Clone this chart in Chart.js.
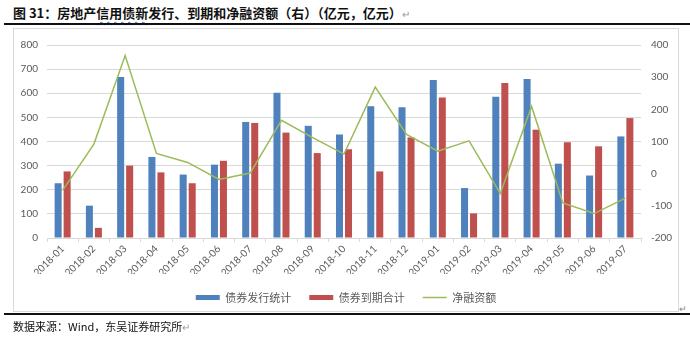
<!DOCTYPE html>
<html>
<head>
<meta charset="utf-8">
<script src="https://cdn.jsdelivr.net/npm/chart.js@4.4.1/dist/chart.umd.min.js"></script>
<style>
  body { margin: 0; background: #fff; width: 690px; height: 340px; position: relative; overflow: hidden;
         font-family: "Noto Sans CJK SC", sans-serif; }
  #title { position: absolute; left: 13px; top: 4px; font-size: 13px; font-weight: bold; line-height: 18px; white-space: nowrap; color: #111; }
  #title .wavy { text-decoration: underline wavy #4472c4; text-decoration-thickness: 1px; text-underline-offset: 3px; }
  .mark { color: #999; font-weight: normal; font-size: 10px; }
  .rule { position: absolute; left: 4px; right: 0; height: 2px; background: #111; }
  #frame { position: absolute; left: 13px; top: 28px; width: 666px; height: 284px; box-sizing: border-box; border: 1px solid #d9d9d9; }
  #box { position: absolute; left: 14px; top: 29px; width: 664px; height: 290px; }
  #source { position: absolute; left: 13px; top: 318px; font-size: 11px; line-height: 16px; white-space: nowrap; color: #111; }
  #corner { position: absolute; left: 679px; top: 302px; font-size: 9px; color: #888; }
</style>
</head>
<body>
<div id="title">图 31：房地产<span class="wavy">信用债新</span>发行、到期和净融资额（右）（亿元，亿元）<span class="mark">↵</span></div>
<div class="rule" style="top:23px"></div>
<div id="frame"></div>
<div id="box"><canvas id="chart"></canvas></div>
<span id="corner">↵</span>
<div class="rule" style="top:313px"></div>
<div id="source">数据来源：Wind，东吴证券研究所<span class="mark">↵</span></div>

<script>
// ---- DATA ----
const months = ['2018-01', '2018-02', '2018-03', '2018-04', '2018-05', '2018-06', '2018-07', '2018-08', '2018-09', '2018-10',
  '2018-11', '2018-12', '2019-01', '2019-02', '2019-03', '2019-04', '2019-05', '2019-06', '2019-07'];
const issuance = [227, 134, 667, 336, 263, 304, 481, 602, 465, 429, 546, 542, 655, 207, 586, 659, 308, 259, 421];
const maturity = [276, 42, 300, 272, 227, 320, 477, 437, 352, 368, 276, 417, 582, 102, 642, 449, 397, 380, 497];
const netFinancing = [-52, 92, 367, 63, 35, -18, 2, 166, 112, 61, 269, 122, 70, 102, -62, 209, -91, -124, -76];

const blue = '#4F81BD', red = '#C0504D', green = '#9BBB59';
const tickFont = { family: 'Lato', size: 10 };

new Chart(document.getElementById('chart'), {
  type: 'bar',
  data: {
    labels: months,
    datasets: [
      { label: '债券发行统计', data: issuance, backgroundColor: blue, yAxisID: 'y',
        categoryPercentage: 0.576, barPercentage: 0.78, order: 1 },
      { label: '债券到期合计', data: maturity, backgroundColor: red, yAxisID: 'y',
        categoryPercentage: 0.576, barPercentage: 0.78, order: 1 },
      { type: 'line', label: '净融资额', data: netFinancing, borderColor: green, backgroundColor: green,
        borderWidth: 1.5, pointRadius: 0, tension: 0, yAxisID: 'y1', order: 0 }
    ]
  },
  options: {
    responsive: true,
    maintainAspectRatio: false,
    animation: false,
    layout: { padding: { left: 0, right: 0, top: 11, bottom: 6 } },
    plugins: {
      tooltip: { enabled: false },
      legend: {
        position: 'bottom',
        labels: {
          usePointStyle: true,
          pointStyleWidth: 24,
          boxHeight: 5,
          padding: 18,
          color: '#595959',
          font: { family: 'Noto Sans CJK SC', size: 11 },
          generateLabels(chart) {
            const items = Chart.defaults.plugins.legend.labels.generateLabels(chart);
            items.forEach(it => {
              if (it.datasetIndex === 2) { it.pointStyle = 'line'; it.lineWidth = 1.5; it.strokeStyle = green; }
              else { it.pointStyle = 'rect'; it.lineWidth = 0; }
            });
            return items.sort((a, b) => a.datasetIndex - b.datasetIndex);
          }
        }
      }
    },
    scales: {
      x: {
        offset: true,
        grid: { display: true, drawOnChartArea: false, drawTicks: true, tickLength: 4, color: '#d9d9d9' },
        border: { color: '#d9d9d9' },
        ticks: { autoSkip: false, minRotation: 45, maxRotation: 45, padding: 1, color: '#595959', font: tickFont },
        afterFit(scale) { scale.height = 36; }
      },
      y: {
        position: 'left',
        min: 0, max: 800,
        ticks: { stepSize: 100, padding: 9, color: '#595959', font: tickFont },
        grid: { color: '#d9d9d9', drawTicks: false },
        border: { display: false },
        afterFit(scale) { scale.width = 33; }
      },
      y1: {
        position: 'right',
        min: -200, max: 400,
        ticks: { stepSize: 100, padding: 10, color: '#595959', font: tickFont },
        grid: { drawOnChartArea: false, drawTicks: false },
        border: { display: false },
        afterFit(scale) { scale.width = 37; }
      }
    }
  }
});
</script>
</body>
</html>
